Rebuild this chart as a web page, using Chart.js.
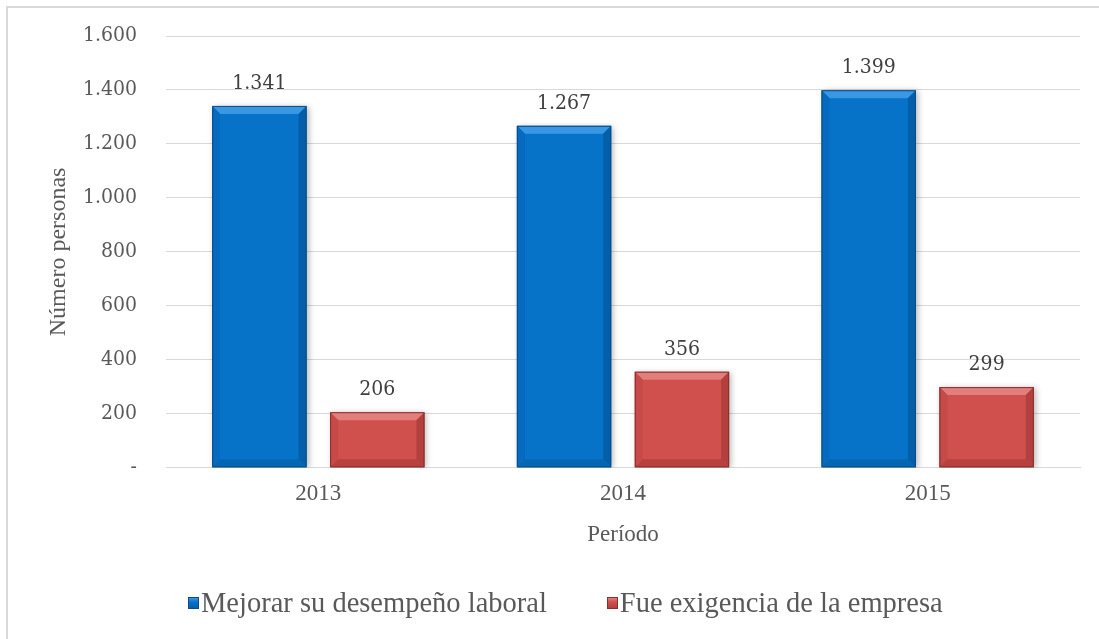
<!DOCTYPE html>
<html>
<head>
<meta charset="utf-8">
<script src="https://cdn.jsdelivr.net/npm/chart.js@4"></script>
<style>
  html, body { margin: 0; padding: 0; background: #fff; overflow: hidden; }
  #frame { position: absolute; left: 6px; top: 6px; width: 1200px; height: 700px; border: 2px solid #d9d9d9; }
  #wrap { position: absolute; left: 0; top: 0; width: 1099px; height: 639px; }
  #legend { position: absolute; left: 188px; top: 587px; display: flex; align-items: center;
            font-family: 'Liberation Serif', 'Times New Roman', serif; font-size: 28.5px; color: #595959; }
  #legend .item { display: flex; align-items: center; margin-right: 60px; white-space: nowrap; }
  #legend .box { width: 11px; height: 12px; margin-right: 2px; box-sizing: border-box; }
</style>
</head>
<body>
<div id="frame"></div>
<div id="wrap"><canvas id="chart" width="1099" height="639"></canvas></div>
<div id="legend"></div>
<script>
// --- data ---
const years     = ['2013', '2014', '2015'];
const mejorar   = [1341, 1267, 1399];
const exigencia = [206, 356, 299];
const seriesNames = ['Mejorar su desempeño laboral', 'Fue exigencia de la empresa'];
const yTicks    = [0, 200, 400, 600, 800, 1000, 1200, 1400, 1600];

// bar colours + bevel shades
const palette = [
  { fill: '#0673c9', top: '#3a97e4', left: '#056ac0', right: '#045fa8', bottom: '#0566b2', edge: '#0a4c86' },
  { fill: '#cf504d', top: '#e27e7b', left: '#c64a47', right: '#b2403e', bottom: '#b9403e', edge: '#8a2e2c' },
];

const fmt = v => v === 0 ? '-' : String(v).replace(/\B(?=(\d{3})+(?!\d))/g, '.');

const serifC = "'DejaVu Serif Condensed', 'Liberation Serif', serif";
const serifT = "'Liberation Serif', 'Times New Roman', serif";

function poly(ctx, pts, color) {
  ctx.beginPath();
  ctx.moveTo(pts[0][0], pts[0][1]);
  for (let i = 1; i < pts.length; i++) ctx.lineTo(pts[i][0], pts[i][1]);
  ctx.closePath();
  ctx.fillStyle = color;
  ctx.fill();
}

// soft shadow under bars, then bevel overlay drawn from the bar elements
const bevelPlugin = {
  id: 'bevel',
  beforeDatasetsDraw(chart) {
    const ctx = chart.ctx;
    ctx.save();
    ctx.shadowColor = 'rgba(0,0,0,0.28)';
    ctx.shadowBlur = 6;
    ctx.shadowOffsetX = 2;
    ctx.shadowOffsetY = 1;
  },
  afterDatasetsDraw(chart) {
    const ctx = chart.ctx;
    ctx.restore();
    chart.data.datasets.forEach((ds, i) => {
      const pal = palette[i];
      chart.getDatasetMeta(i).data.forEach(bar => {
        const { x, y, base, width } = bar.getProps(['x', 'y', 'base', 'width'], true);
        const l = x - width / 2, r = x + width / 2, t = y, b = base;
        const d = Math.min(8, (b - t) / 2);
        ctx.save();
        poly(ctx, [[l, t], [r, t], [r - d, t + d], [l + d, t + d]], pal.top);
        poly(ctx, [[l, t], [l + d, t + d], [l + d, b - d], [l, b]], pal.left);
        poly(ctx, [[r, t], [r, b], [r - d, b - d], [r - d, t + d]], pal.right);
        poly(ctx, [[l, b], [l + d, b - d], [r - d, b - d], [r, b]], pal.bottom);
        ctx.strokeStyle = pal.edge;
        ctx.lineWidth = 1;
        ctx.strokeRect(l + 0.5, t + 0.5, width - 1, b - t - 1);
        ctx.restore();
      });
    });
  },
};

// value labels above bars
const labelPlugin = {
  id: 'valueLabels',
  afterDatasetsDraw(chart) {
    const ctx = chart.ctx;
    ctx.save();
    ctx.font = '21px ' + serifC;
    ctx.fillStyle = '#404040';
    ctx.textAlign = 'center';
    ctx.textBaseline = 'alphabetic';
    chart.data.datasets.forEach((ds, i) => {
      chart.getDatasetMeta(i).data.forEach((bar, j) => {
        ctx.fillText(fmt(ds.data[j]), bar.x, bar.y - 17);
      });
    });
    ctx.restore();
  },
};

const chart = new Chart(document.getElementById('chart'), {
  type: 'bar',
  data: {
    labels: years,
    datasets: [
      { label: seriesNames[0], data: mejorar,   backgroundColor: palette[0].fill },
      { label: seriesNames[1], data: exigencia, backgroundColor: palette[1].fill },
    ],
  },
  options: {
    responsive: false,
    animation: false,
    categoryPercentage: 0.774,
    barPercentage: 0.8,
    layout: { padding: { left: 30, right: 19, top: 36, bottom: 90 } },
    plugins: {
      legend: { display: false },
      tooltip: { enabled: false },
    },
    scales: {
      x: {
        grid: { display: false },
        border: { color: '#d9d9d9', width: 1 },
        ticks: { color: '#595959', padding: 4, font: { family: serifT, size: 23 } },
        title: {
          display: true, text: 'Período', color: '#595959',
          font: { family: serifT, size: 23 }, padding: { top: 10, bottom: 0 },
        },
      },
      y: {
        min: 0, max: 1600,
        afterFit: s => { s.width = 136; },
        afterBuildTicks: s => { s.ticks = yTicks.map(v => ({ value: v })); },
        // invisible tick marks give the label gap without padding the top
        grid: { color: '#d9d9d9', lineWidth: 1, drawTicks: true, tickLength: 29, tickColor: 'rgba(0,0,0,0)' },
        border: { display: false },
        ticks: { color: '#595959', padding: 0, font: { family: serifC, size: 21 }, callback: v => fmt(v) },
        title: {
          display: true, text: 'Número personas', color: '#595959',
          font: { family: serifT, size: 24 }, padding: { top: 14, bottom: 0 },
        },
      },
    },
  },
  plugins: [bevelPlugin, labelPlugin],
});

// html legend built from the chart's datasets
const legendEl = document.getElementById('legend');
chart.data.datasets.forEach((ds, i) => {
  const item = document.createElement('div');
  item.className = 'item';
  const box = document.createElement('span');
  box.className = 'box';
  box.style.background = `linear-gradient(180deg, ${palette[i].top} 0%, ${palette[i].fill} 40%, ${palette[i].right} 100%)`;
  box.style.border = `1px solid ${palette[i].edge}`;
  const txt = document.createElement('span');
  txt.textContent = ds.label;
  item.appendChild(box);
  item.appendChild(txt);
  legendEl.appendChild(item);
});
</script>
</body>
</html>
